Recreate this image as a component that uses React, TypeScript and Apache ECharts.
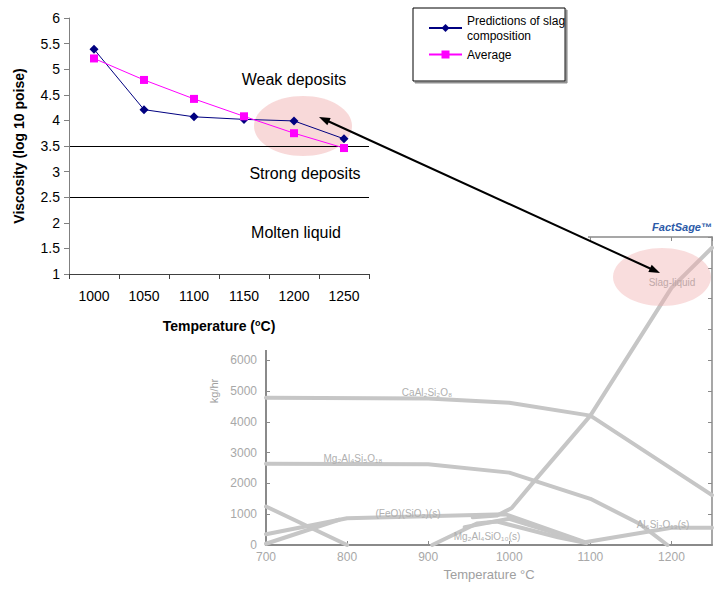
import React, { useEffect, useRef } from "react";
import * as echarts from "echarts";

// ---- Top chart data ----
const categories = ["1000", "1050", "1100", "1150", "1200", "1250"];
const predictions = [5.39, 4.21, 4.07, 4.02, 3.99, 3.64];
const average = [5.21, 4.79, 4.42, 4.08, 3.75, 3.46];
const boundaries = [3.5, 2.5];
const regionLabels = ["Weak deposits", "Strong deposits", "Molten liquid"];

// ---- Bottom (FactSage) chart data: [temperature, kg/hr] ----
const caAl2Si2O8 = [[700, 4780], [900, 4760], [1000, 4620], [1100, 4200], [1250, 1620]];
const mg2Al4Si5O18 = [[700, 2640], [900, 2620], [1000, 2350], [1100, 1500], [1160, 700], [1195, 0]];
const slagLiquid = [[955, 900], [985, 960], [1003, 1200], [1030, 2050], [1100, 4200], [1200, 8350], [1250, 9650]];
const feoSiO2 = [[700, 350], [800, 870], [995, 1000], [1095, 80]];
const descending700 = [[700, 1250], [800, 0]];
const rising700 = [[700, 40], [790, 820]];
const mgSilicateS = [[905, 0], [960, 700], [985, 760], [1060, 250], [1095, 60]];
const innerLine = [[945, 580], [1000, 850], [1090, 110]];
const al6Si2O13 = [[1095, 100], [1200, 560], [1250, 560]];
const bottomLabels = ["CaAl₂Si₂O₈", "Mg₂Al₄Si₅O₁₈", "(FeO)(SiO₂)(s)", "Mg₂Al₄SiO₁₀(s)", "Al₆Si₂O₁₃(s)", "Slag-liquid"];
const visibleYMax = 6000;

const FONT = 'Arial, "Liberation Sans", sans-serif';
const GRAYLINE = "#c6c6c6";

export default function App() {
  const ref = useRef<HTMLDivElement>(null);
  useEffect(() => {
    if (!ref.current) return;
    const chart = echarts.init(ref.current, null, { renderer: "svg" });

    const bottomLine = (name: string, data: number[][]) => ({
      name,
      type: "line",
      xAxisIndex: 1,
      yAxisIndex: 1,
      data,
      symbol: "none",
      silent: true,
      z: 1,
      lineStyle: { color: GRAYLINE, width: 4, join: "round", cap: "round" },
      itemStyle: { color: GRAYLINE },
    });

    const ux = 0.909, uy = 0.418, nx = -0.418, ny = 0.909;
    const t1 = [319, 117], t2 = [660, 273];
    const head = (tip: number[], dir: number) => {
      const bx = tip[0] + dir * 11 * ux, by = tip[1] + dir * 11 * uy;
      return [tip, [bx + 4 * nx, by + 4 * ny], [bx - 4 * nx, by - 4 * ny]];
    };
    const smallLabel = (text: string, x: number, y: number, fill = "#b0b0b0", z = 2) => ({
      type: "text",
      z,
      silent: true,
      style: { text, x, y, font: "10px " + FONT, fill, textAlign: "center", textVerticalAlign: "middle" },
    });
    const regionLabel = (text: string, x: number, y: number) => ({
      type: "text",
      z: 6,
      silent: true,
      style: { text, x, y, font: "16px " + FONT, fill: "#000", textAlign: "center", textVerticalAlign: "middle" },
    });

    const option: any = {
      animation: false,
      backgroundColor: "#ffffff",
      textStyle: { fontFamily: FONT },
      grid: [
        { left: 69, top: 18, width: 300, height: 256 },
        { left: 266, top: 237, width: 446, height: 308 },
      ],
      legend: {
        data: ["Predictions of slag composition", "Average"],
        orient: "vertical",
        left: 413,
        top: 8,
        padding: [5, 0, 19, 15],
        itemWidth: 33,
        itemHeight: 10,
        itemGap: 4,
        backgroundColor: "#ffffff",
        borderColor: "#000000",
        borderWidth: 1,
        borderRadius: 0,
        shadowColor: "#909090",
        shadowOffsetX: 2,
        shadowOffsetY: 2,
        shadowBlur: 0,
        z: 20,
        formatter: (n: string) => (n === "Predictions of slag composition" ? "Predictions of slag\ncomposition" : n),
        textStyle: { fontSize: 12, lineHeight: 15, color: "#000", fontFamily: FONT },
      },
      xAxis: [
        {
          gridIndex: 0,
          type: "category",
          data: categories,
          boundaryGap: true,
          z: 5,
          axisLine: { onZero: false, lineStyle: { color: "#404040", width: 1 } },
          axisTick: { show: true, length: 5, lineStyle: { color: "#404040" } },
          axisLabel: { fontSize: 14, color: "#000", margin: 15, fontFamily: FONT },
          splitLine: { show: false },
          name: "{a|Temperature (}{s|o}{a|C)}",
          nameLocation: "middle",
          nameGap: 44,
          nameTextStyle: {
            rich: {
              a: { fontSize: 14, fontWeight: "bold", color: "#000", fontFamily: FONT },
              s: { fontSize: 9, fontWeight: "bold", color: "#000", fontFamily: FONT, verticalAlign: "top", padding: [0, 0, 7, 0] },
            },
          },
        },
        {
          gridIndex: 1,
          type: "value",
          min: 700,
          max: 1250,
          interval: 100,
          position: "bottom",
          z: 0,
          axisLine: { onZero: false, lineStyle: { color: "#8a8a8a", width: 2 } },
          axisTick: { show: true, inside: true, length: 4, lineStyle: { color: "#8a8a8a" } },
          axisLabel: { fontSize: 12, color: "#a8a8a8", margin: 6, showMaxLabel: false, fontFamily: FONT, formatter: (v: number) => String(v) },
          splitLine: { show: false },
          name: "Temperature °C",
          nameLocation: "middle",
          nameGap: 21,
          nameTextStyle: { fontSize: 13, color: "#a0a0a0", fontFamily: FONT },
        },
        {
          gridIndex: 1,
          type: "value",
          min: 700,
          max: 1250,
          interval: 100,
          position: "top",
          z: 0,
          axisLine: { onZero: false, lineStyle: { color: "#8a8a8a", width: 1.5 } },
          axisTick: { show: true, inside: true, length: 4, lineStyle: { color: "#8a8a8a" } },
          axisLabel: { show: false },
          splitLine: { show: false },
        },
      ],
      yAxis: [
        {
          gridIndex: 0,
          type: "value",
          min: 1,
          max: 6,
          interval: 0.5,
          z: 5,
          axisLine: { show: true, onZero: false, lineStyle: { color: "#808080", width: 1 } },
          axisTick: { show: true, length: 5, lineStyle: { color: "#808080" } },
          axisLabel: { fontSize: 14, color: "#000", margin: 9, fontFamily: FONT },
          splitLine: { show: false },
          name: "Viscosity (log 10 poise)",
          nameLocation: "middle",
          nameGap: 43,
          nameTextStyle: { fontSize: 14, fontWeight: "bold", color: "#000", fontFamily: FONT },
        },
        {
          gridIndex: 1,
          type: "value",
          min: 0,
          max: 10000,
          interval: 1000,
          position: "left",
          z: 0,
          axisLine: { show: true, onZero: false, lineStyle: { color: "#8a8a8a", width: 2 } },
          axisTick: { show: true, inside: true, length: 4, lineStyle: { color: "#8a8a8a" } },
          axisLabel: {
            fontSize: 12,
            color: "#a8a8a8",
            margin: 9,
            fontFamily: FONT,
            formatter: (v: number) => (v > visibleYMax ? "" : String(v)),
          },
          splitLine: { show: false },
          name: "kg/hr",
          nameLocation: "middle",
          nameGap: 36,
          nameTextStyle: { fontSize: 11, color: "#a0a0a0", fontFamily: FONT },
        },
        {
          gridIndex: 1,
          type: "value",
          min: 0,
          max: 10000,
          interval: 1000,
          position: "right",
          z: 0,
          axisLine: { show: true, onZero: false, lineStyle: { color: "#8a8a8a", width: 1.5 } },
          axisTick: { show: true, inside: true, length: 4, lineStyle: { color: "#8a8a8a" } },
          axisLabel: { show: false },
          splitLine: { show: false },
        },
      ],
      series: [
        bottomLine("CaAl2Si2O8", caAl2Si2O8),
        bottomLine("Mg2Al4Si5O18", mg2Al4Si5O18),
        bottomLine("Slag-liquid", slagLiquid),
        bottomLine("(FeO)(SiO2)(s)", feoSiO2),
        bottomLine("line A", descending700),
        bottomLine("line B", rising700),
        bottomLine("Mg silicate (s)", mgSilicateS),
        bottomLine("inner", innerLine),
        bottomLine("Al6Si2O13(s)", al6Si2O13),
        {
          name: "Predictions of slag composition",
          type: "line",
          xAxisIndex: 0,
          yAxisIndex: 0,
          data: predictions,
          z: 8,
          symbol: "diamond",
          symbolSize: 9,
          lineStyle: { color: "#000080", width: 1 },
          itemStyle: { color: "#000080" },
          markLine: {
            silent: true,
            symbol: "none",
            label: { show: false },
            lineStyle: { color: "#000", width: 1, type: "solid" },
            data: boundaries.map((v) => ({ yAxis: v })),
          },
        },
        {
          name: "Average",
          type: "line",
          xAxisIndex: 0,
          yAxisIndex: 0,
          data: average,
          z: 8,
          symbol: "rect",
          symbolSize: 8,
          lineStyle: { color: "#ff00ff", width: 1 },
          itemStyle: { color: "#ff00ff" },
        },
      ],
      graphic: [
        { type: "rect", z: 3, silent: true, shape: { x: 0, y: 0, width: 588, height: 350 }, style: { fill: "#ffffff" } },
        { type: "ellipse", z: 4, silent: true, shape: { cx: 303, cy: 126, rx: 49, ry: 30 }, style: { fill: "rgba(240,170,170,0.45)" } },
        regionLabel(regionLabels[0], 294, 79),
        regionLabel(regionLabels[1], 305, 173),
        regionLabel(regionLabels[2], 296, 232),
        smallLabel(bottomLabels[0], 427, 392),
        smallLabel(bottomLabels[1], 353, 458),
        smallLabel(bottomLabels[2], 408, 513),
        smallLabel(bottomLabels[3], 487, 536),
        smallLabel(bottomLabels[4], 663, 524),
        { type: "ellipse", z: 9, silent: true, shape: { cx: 662, cy: 277, rx: 49, ry: 29 }, style: { fill: "rgba(240,170,170,0.4)" } },
        smallLabel(bottomLabels[5], 672, 282, "#c0a8a8", 9),
        { type: "text", z: 9, silent: true, style: { text: "FactSage™", x: 712, y: 227, font: "italic bold 11px " + FONT, fill: "#2c5aa8", textAlign: "right", textVerticalAlign: "middle" } },
        { type: "line", z: 12, silent: true, shape: { x1: t1[0] + 6 * ux, y1: t1[1] + 6 * uy, x2: t2[0] - 6 * ux, y2: t2[1] - 6 * uy }, style: { stroke: "#000", lineWidth: 2 } },
        { type: "polygon", z: 12, silent: true, shape: { points: head(t1, 1) }, style: { fill: "#000" } },
        { type: "polygon", z: 12, silent: true, shape: { points: head(t2, -1) }, style: { fill: "#000" } },
      ],
    };
    chart.setOption(option);
    return () => chart.dispose();
  }, []);
  return <div ref={ref} style={{ width: 722, height: 591, position: "absolute", left: 0, top: 0 }} />;
}
